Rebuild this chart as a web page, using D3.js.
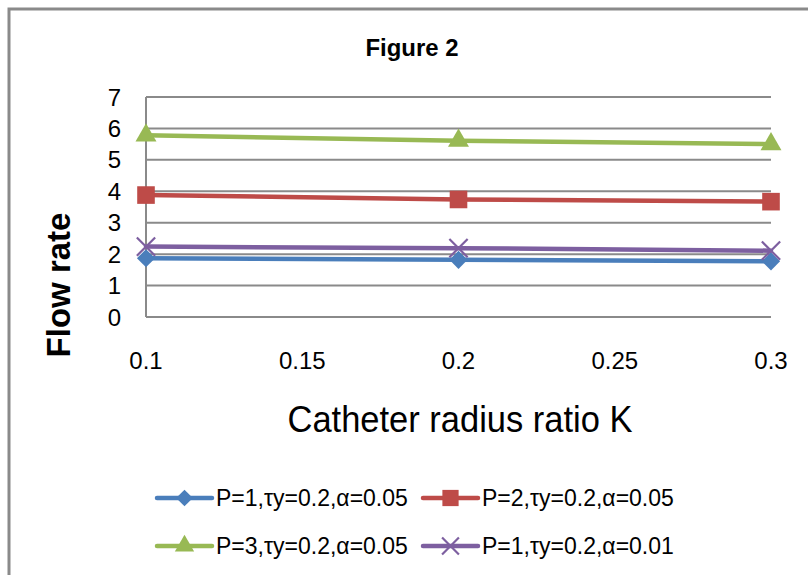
<!DOCTYPE html>
<html>
<head>
<meta charset="utf-8">
<script src="https://cdn.jsdelivr.net/npm/d3@7"></script>
<style>
  html, body { margin: 0; padding: 0; background: #fff; }
  svg { display: block; }
  text { font-family: "Liberation Sans", Arial, sans-serif; fill: #000; }
</style>
</head>
<body>
<svg id="chart" width="808" height="575"></svg>
<script>
// ---- data ----
const xValues = [0.1, 0.2, 0.3];
const seriesNames = [
  "P=1,\u03c4y=0.2,\u03b1=0.05",
  "P=2,\u03c4y=0.2,\u03b1=0.05",
  "P=3,\u03c4y=0.2,\u03b1=0.05",
  "P=1,\u03c4y=0.2,\u03b1=0.01"
];
const s1 = [1.87, 1.82, 1.77];
const s2 = [3.88, 3.74, 3.67];
const s3 = [5.78, 5.61, 5.50];
const s4 = [2.24, 2.19, 2.11];
const xTicks = [0.1, 0.15, 0.2, 0.25, 0.3];
const yTicks = [0, 1, 2, 3, 4, 5, 6, 7];
const title = "Figure 2";
const xTitle = "Catheter radius ratio K";
const yTitle = "Flow rate";

// ---- styles ----
const colors = ["#4a7ebb", "#be4b48", "#98b954", "#7d5fa0"];
const symbols = ["diamond", "square", "triangle", "x"];
const seriesData = [s1, s2, s3, s4];

const svg = d3.select("#chart");

// outer frame
svg.append("rect")
  .attr("x", 9).attr("y", 9).attr("width", 840).attr("height", 620)
  .attr("fill", "none").attr("stroke", "#8a8a8a").attr("stroke-width", 3);

const x = d3.scaleLinear().domain([0.1, 0.3]).range([146, 771]);
const y = d3.scaleLinear().domain([0, 7]).range([317, 97]);

// gridlines
svg.append("g").selectAll("line").data(yTicks).join("line")
  .attr("x1", x(0.1)).attr("x2", x(0.3))
  .attr("y1", d => y(d)).attr("y2", d => y(d))
  .attr("stroke", "#8a8a8a").attr("stroke-width", 2);

// y axis line
svg.append("line")
  .attr("x1", x(0.1)).attr("x2", x(0.1)).attr("y1", y(0)).attr("y2", y(7))
  .attr("stroke", "#8a8a8a").attr("stroke-width", 2);

// y tick labels
svg.append("g").selectAll("text").data(yTicks).join("text")
  .attr("x", 121).attr("y", d => y(d)).attr("dy", "0.36em")
  .attr("text-anchor", "end").attr("font-size", 24)
  .text(d => d);

// x tick labels
svg.append("g").selectAll("text").data(xTicks).join("text")
  .attr("x", d => x(d)).attr("y", 369)
  .attr("text-anchor", "middle").attr("font-size", 24)
  .text(d => d3.format("")(d));

// series
const line = d3.line().x((d, i) => x(xValues[i])).y(d => y(d));

function markerPath(type, legend) {
  const k = legend ? 0.85 : 1;
  if (type === "diamond") return d3.symbol(d3.symbolSquare, 165 * k)();
  if (type === "square") return d3.symbol(d3.symbolSquare, 310 * k)();
  if (type === "triangle") return d3.symbol(d3.symbolTriangle, 190 * k)();
  return d3.symbol(d3.symbolX, 220 * k)();
}
function drawMarker(g, type, color, cx, cy, legend) {
  const p = g.append("path").attr("d", markerPath(type, legend))
    .attr("transform", `translate(${cx},${cy})` + (type === "diamond" ? " rotate(45)" : ""));
  if (type === "x") p.attr("fill", "none").attr("stroke", color).attr("stroke-width", 2.2);
  else p.attr("fill", color);
}

seriesData.forEach((vals, si) => {
  const g = svg.append("g");
  g.append("path").datum(vals).attr("d", line)
    .attr("fill", "none").attr("stroke", colors[si]).attr("stroke-width", 4.5)
    .attr("stroke-linecap", "round");
  vals.forEach((v, i) => drawMarker(g, symbols[si], colors[si], x(xValues[i]), y(v), false));
});

// titles
svg.append("text").attr("x", 412).attr("y", 56).attr("text-anchor", "middle")
  .attr("font-size", 24).attr("font-weight", "bold")
  .attr("textLength", 93).attr("lengthAdjust", "spacingAndGlyphs")
  .text(title);

svg.append("text").attr("x", 460).attr("y", 432).attr("text-anchor", "middle")
  .attr("font-size", 37)
  .attr("textLength", 345).attr("lengthAdjust", "spacingAndGlyphs")
  .text(xTitle);

svg.append("text").attr("transform", "translate(70,285) rotate(-90)")
  .attr("text-anchor", "middle").attr("font-size", 33).attr("font-weight", "bold")
  .text(yTitle);

// legend
const legendPos = [[157, 498], [423, 498], [157, 546], [423, 546]];
seriesNames.forEach((name, si) => {
  const [lx, ly] = legendPos[si];
  const g = svg.append("g");
  g.append("line").attr("x1", lx).attr("x2", lx + 55).attr("y1", ly).attr("y2", ly)
    .attr("stroke", colors[si]).attr("stroke-width", 4.5).attr("stroke-linecap", "round");
  drawMarker(g, symbols[si], colors[si], lx + 27.5, ly, true);
  g.append("text").attr("x", lx + 59).attr("y", ly).attr("dy", "0.36em")
    .attr("font-size", 23).text(name);
});
</script>
</body>
</html>
